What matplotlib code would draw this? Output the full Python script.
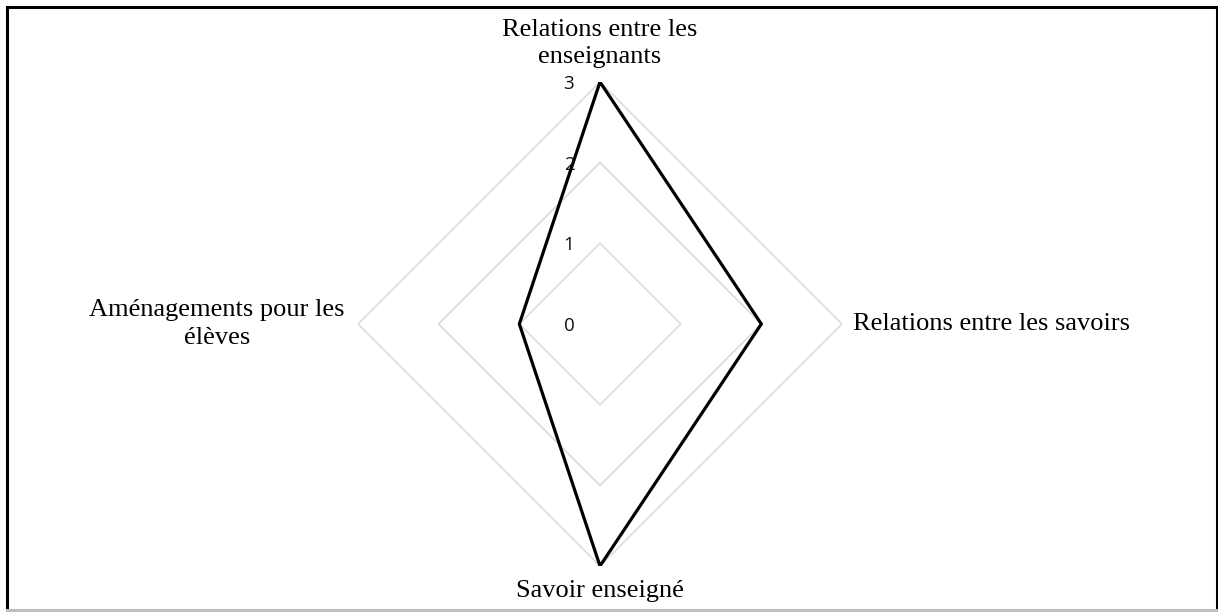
"""Radar (style Excel) : quatre dimensions, valeurs 0-3."""

import numpy as np
import matplotlib

matplotlib.use("Agg")
import matplotlib.pyplot as plt
from matplotlib.lines import Line2D

categories = [
    "Relations entre les\nenseignants",
    "Relations entre les savoirs",
    "Savoir enseigné",
    "Aménagements pour les\nélèves",
]
values = [3, 2, 3, 1]
ring_levels = [0, 1, 2, 3]
tick_labels = ["0", "1", "2", "3"]

W, H = 1218, 612
fig = plt.figure(figsize=(W / 100, H / 100), dpi=100)

# centre du radar (px) et rayon
cx, cy, R = 600, 324, 242
ax = fig.add_axes([(cx - R) / W, (H - cy - R) / H, 2 * R / W, 2 * R / H],
                  projection="polar")
ax.set_theta_offset(np.pi / 2)
ax.set_theta_direction(-1)
ax.set_ylim(0, max(ring_levels))
ax.grid(False)
ax.spines["polar"].set_visible(False)
ax.set_xticks([])
ax.set_yticks([])
ax.patch.set_alpha(0)

theta = np.linspace(0, 2 * np.pi, len(categories), endpoint=False)
theta_c = np.append(theta, theta[0])

# anneaux polygonaux
for lv in ring_levels[1:]:
    ax.plot(theta_c, [lv] * len(theta_c), color="#d9d9d9", lw=1.1, zorder=1)

vals = np.append(values, values[0])
ax.plot(theta_c, vals, color="black", lw=2.3, zorder=3, solid_joinstyle="miter")

# étiquettes de l'axe radial
for lv, lab in zip(ring_levels, tick_labels):
    ax.annotate(lab, xy=(0, lv), xytext=(-31 * 0.72, -2 * 0.72),
                textcoords="offset points", ha="center", va="center",
                fontsize=13.5, family="Open Sans", color="#111111", zorder=4)

# étiquettes des catégories
serif = "Liberation Serif"
fs = 19
fig.text(600 / W, 1 - 68 / H, categories[0], ha="center", va="bottom",
         fontsize=fs, family=serif, linespacing=1.3)
fig.text(853 / W, 1 - 324 / H, categories[1], ha="left", va="center",
         fontsize=fs, family=serif)
fig.text(600 / W, 1 - 580 / H, categories[2], ha="center", va="top",
         fontsize=fs, family=serif)
fig.text(217 / W, 1 - 324 / H, categories[3], ha="center", va="center",
         fontsize=fs, family=serif, linespacing=1.3)

# cadre
x0, x1, y0, y1 = 7 / W, 1 - 1.5 / W, 2 / H, 1 - 7 / H
for xs, ys, c in [([x0, x0], [y0, y1], "black"), ([x0, x1], [y1, y1], "black"),
                  ([x1, x1], [y0, y1], "black"), ([x0, x1], [y0, y0], "#bfbfbf")]:
    fig.add_artist(Line2D(xs, ys, color=c, lw=2.2, transform=fig.transFigure))

fig.savefig("out.png", dpi=100, facecolor="white")
